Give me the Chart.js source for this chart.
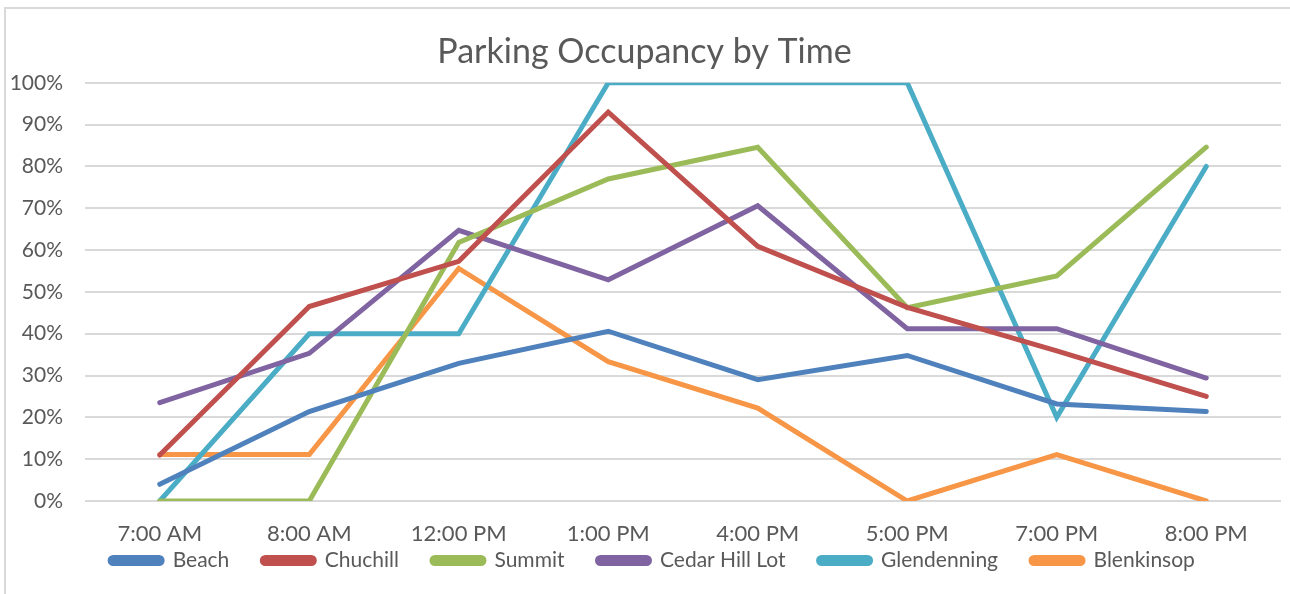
<!DOCTYPE html>
<html>
<head>
<meta charset="utf-8">
<script src="https://cdn.jsdelivr.net/npm/chart.js@4.4.0/dist/chart.umd.min.js"></script>
<style>
    body { margin: 0; background: #fff; }
    #wrap { position: relative; width: 1290px; height: 594px; }
    #frame { position: absolute; left: 4px; top: 7px; right: -2px; bottom: -2px; border-left: 2px solid #d9d9d9; border-top: 2px solid #d9d9d9; }
    canvas { position: absolute; left: 0; top: 0; }
</style>
</head>
<body>
<div id="wrap">
    <div id="frame"></div>
    <canvas id="occupancyChart" width="1290" height="594"></canvas>
</div>
<script>
// Datos del gráfico
const horas = ['7:00 AM', '8:00 AM', '12:00 PM', '1:00 PM', '4:00 PM', '5:00 PM', '7:00 PM', '8:00 PM'];
const beach = [4, 21.4, 32.9, 40.6, 29, 34.8, 23.2, 21.4];
const chuchill = [11, 46.5, 57.3, 93, 60.9, 46.3, 35.9, 25];
const summit = [0, 0, 61.8, 77, 84.6, 46.2, 53.8, 84.6];
const cedarHill = [23.5, 35.3, 64.7, 52.9, 70.6, 41.2, 41.2, 29.4];
const glendenning = [0, 40, 40, 100, 100, 100, 20, 80];
const blenkinsop = [11.1, 11.1, 55.6, 33.3, 22.2, 0, 11.1, 0];
const pasosY = [0, 10, 20, 30, 40, 50, 60, 70, 80, 90, 100];

const fuente = 'Lato, "Open Sans", sans-serif';
const gris = '#595959';

function serie(label, data, color) {
    return {
        label: label,
        data: data,
        borderColor: color,
        backgroundColor: color,
        borderWidth: 5,
        pointRadius: 0,
        pointHoverRadius: 0,
        borderCapStyle: 'round',
        borderJoinStyle: 'miter',
        tension: 0,
        fill: false
    };
}

// La leyenda queda pegada a las etiquetas del eje X (como en Excel)
const subirLeyenda = {
    id: 'subirLeyenda',
    afterLayout: function(chart) {
        chart.legend.top -= 30;
        chart.legend.bottom += 40;
        chart.legend.left += 8;
        chart.legend.right += 8;
    }
};

const ctx = document.getElementById('occupancyChart').getContext('2d');
const occupancyChart = new Chart(ctx, {
    type: 'line',
    data: {
        labels: horas,
        datasets: [
            serie('Beach', beach, '#4F81BD'),
            serie('Chuchill', chuchill, '#C0504D'),
            serie('Summit', summit, '#9BBB59'),
            serie('Cedar Hill Lot', cedarHill, '#8064A2'),
            serie('Glendenning', glendenning, '#4BACC6'),
            serie('Blenkinsop', blenkinsop, '#F79646')
        ]
    },
    plugins: [subirLeyenda],
    options: {
        responsive: false,
        animation: false,
        layout: {
            padding: { left: 8, right: 9, top: 0, bottom: 17 }
        },
        plugins: {
            title: {
                display: true,
                text: 'Parking Occupancy by Time',
                color: gris,
                font: { family: fuente, size: 34, weight: 'normal' },
                padding: { top: 32, bottom: 10 }
            },
            legend: {
                display: true,
                position: 'bottom',
                maxHeight: 30,
                labels: {
                    color: gris,
                    font: { family: fuente, size: 21 },
                    boxWidth: 52,
                    boxHeight: 6,
                    useBorderRadius: true,
                    borderRadius: 3,
                    padding: 33
                }
            },
            tooltip: { enabled: false }
        },
        scales: {
            x: {
                offset: true,
                grid: { display: false, drawTicks: false },
                border: { display: false },
                ticks: {
                    color: gris,
                    font: { family: fuente, size: 22 },
                    padding: 20,
                    maxRotation: 0
                },
                afterFit: function(s) { s.height = 46; }
            },
            y: {
                min: 0,
                max: 100,
                afterBuildTicks: function(s) { s.ticks = pasosY.map(v => ({ value: v })); },
                grid: { color: '#d9d9d9', lineWidth: 2, drawTicks: false },
                border: { display: false },
                ticks: {
                    color: gris,
                    font: { family: fuente, size: 21 },
                    padding: 22,
                    callback: function(v) { return v + '%'; }
                },
                afterFit: function(s) { s.width = 77; }
            }
        }
    }
});
</script>
</body>
</html>
